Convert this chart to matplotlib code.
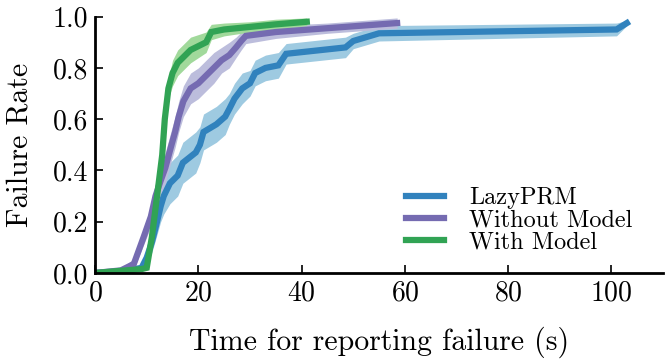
import numpy as np
import matplotlib
matplotlib.use("Agg")
import matplotlib.pyplot as plt

plt.rcParams['font.family'] = 'cmr10'
plt.rcParams['mathtext.fontset'] = 'cm'
plt.rcParams['axes.unicode_minus'] = False
plt.rcParams['axes.formatter.use_mathtext'] = True

# LazyPRM
lazy_t = [0, 5, 9, 10, 11, 12, 12.7, 13.3, 14.5, 16, 17, 19.5, 20.3, 21, 23.5, 25.2, 26, 27,
          28.5, 30, 31, 33, 35.5, 37, 48.5, 50, 55, 101, 103]
lazy_rate = [0, 0.005, 0.02, 0.06, 0.12, 0.2, 0.26, 0.3, 0.35, 0.38, 0.43, 0.47, 0.5, 0.55, 0.58,
             0.61, 0.64, 0.68, 0.72, 0.74, 0.78, 0.80, 0.81, 0.855, 0.88, 0.905, 0.935, 0.95, 0.975]
lazy_err = [0, 0.005, 0.01, 0.02, 0.04, 0.05, 0.06, 0.07, 0.08, 0.08, 0.08, 0.08, 0.07, 0.07, 0.07,
            0.07, 0.06, 0.06, 0.06, 0.05, 0.05, 0.05, 0.05, 0.04, 0.04, 0.03, 0.03, 0.025, 0.01]

# Without model
wo_t = [0, 5, 7.5, 9.4, 10.8, 11.7, 12.7, 13.6, 14.8, 15.5, 16.2, 17.1, 18.5, 20, 21.5, 23,
        24.5, 26, 27.3, 28.3, 29.2, 35, 45, 58.5]
wo_rate = [0, 0.01, 0.035, 0.14, 0.22, 0.3, 0.36, 0.41, 0.5, 0.55, 0.61, 0.67, 0.72, 0.74, 0.77,
           0.80, 0.83, 0.85, 0.88, 0.905, 0.925, 0.94, 0.955, 0.975]
wo_err = [0, 0.01, 0.02, 0.03, 0.04, 0.05, 0.05, 0.06, 0.06, 0.06, 0.06, 0.06, 0.06, 0.06, 0.06,
          0.06, 0.05, 0.05, 0.04, 0.035, 0.03, 0.025, 0.02, 0.02]

# With model
w_t = [0, 9, 10, 11, 12, 13, 13.5, 14.2, 15, 16, 17, 18.5, 21.5, 22.5, 25, 30, 35, 41]
w_rate = [0, 0.015, 0.02, 0.14, 0.3, 0.46, 0.6, 0.72, 0.78, 0.82, 0.84, 0.87, 0.90, 0.94, 0.95,
          0.96, 0.97, 0.98]
w_err = [0, 0.005, 0.01, 0.02, 0.03, 0.03, 0.03, 0.04, 0.05, 0.05, 0.05, 0.05, 0.04, 0.03, 0.025,
         0.02, 0.02, 0.015]

series = [
    ("LazyPRM", lazy_t, lazy_rate, lazy_err, "#3182bd", "#9ecae1"),
    ("Without Model", wo_t, wo_rate, wo_err, "#756bb1", "#bcbddc"),
    ("With Model", w_t, w_rate, w_err, "#31a354", "#a1d99b"),
]

fig = plt.figure(figsize=(6.65, 3.62), dpi=100)
ax = fig.add_axes([0.143, 0.246, 0.854, 0.708])

for name, t, r, e, c, fc in series:
    t = np.array(t)
    r = np.array(r)
    e = np.array(e)
    ax.fill_between(t, r - e, r + e, color=fc, alpha=1.0, linewidth=0)

for name, t, r, e, c, fc in series:
    ax.plot(t, r, color=c, linewidth=4.5, label=name, solid_joinstyle='miter')

ax.set_xlim(0, 110)
ax.set_ylim(0, 1.0)
ax.set_xticks([0, 20, 40, 60, 80, 100])
ax.set_yticks([0.0, 0.2, 0.4, 0.6, 0.8, 1.0])
ax.set_yticklabels(["0.0", "0.2", "0.4", "0.6", "0.8", "1.0"])

for s in ['top', 'right']:
    ax.spines[s].set_visible(False)
for s in ['left', 'bottom']:
    ax.spines[s].set_linewidth(2)
ax.tick_params(direction='in', length=6, width=1.2, labelsize=20, pad=5)

ax.set_xlabel("Time for reporting failure (s)", fontsize=21.5, labelpad=15)
ax.set_ylabel("Failure Rate", fontsize=21.5, labelpad=14)

ax.legend(loc='lower right', bbox_to_anchor=(0.985, -0.01), frameon=False, fontsize=17.5,
          handlelength=1.55, handletextpad=1.05, labelspacing=0.0)

fig.savefig("out.png", dpi=100)
